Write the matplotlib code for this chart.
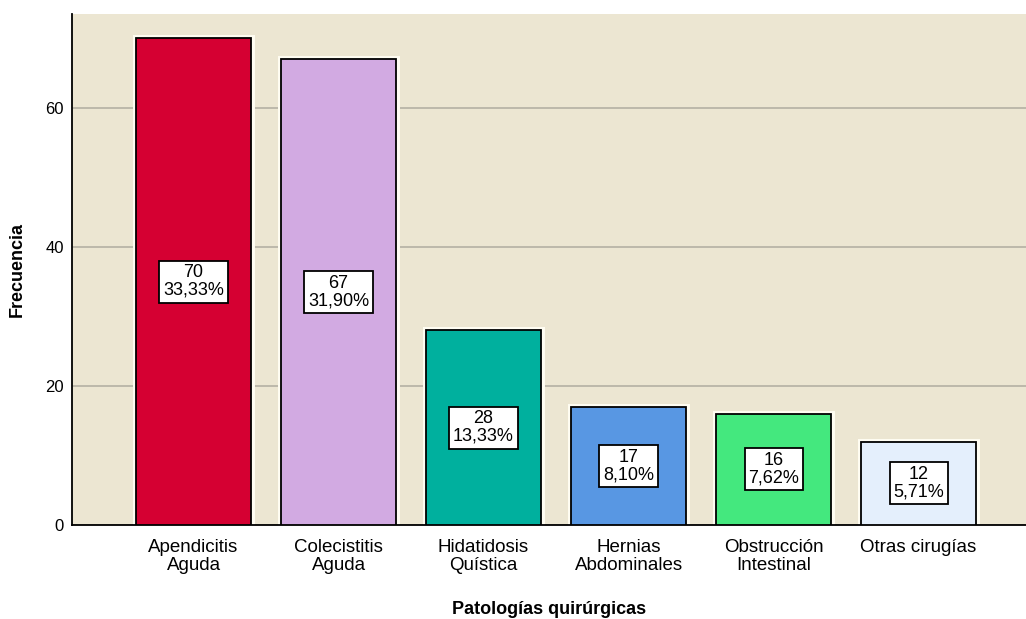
import numpy as np
import matplotlib.pyplot as plt

categorias = ["Apendicitis\nAguda", "Colecistitis\nAguda", "Hidatidosis\nQuística",
              "Hernias\nAbdominales", "Obstrucción\nIntestinal", "Otras cirugías"]
frecuencia = [70, 67, 28, 17, 16, 12]
porcentaje = ["33,33%", "31,90%", "13,33%", "8,10%", "7,62%", "5,71%"]
colores = ["#D50032", "#D2AAE2", "#00B09E", "#5897E3", "#44E87E", "#E4EFFC"]

plt.rcParams['font.family'] = ['Liberation Sans', 'DejaVu Sans']

fig = plt.figure(figsize=(10.26, 6.19), dpi=100)
ax = fig.add_axes([0.0702, 0.1519, 0.9298, 0.8255])
ax.set_facecolor("#ECE6D2")

x = np.arange(len(frecuencia))
ax.yaxis.grid(True, color="#B4B0A4", linewidth=1.2)
ax.set_axisbelow(True)
# halo blanco alrededor de las barras
ax.bar(x, frecuencia, width=0.795, color="none", edgecolor="#FFFDF2", linewidth=5, zorder=2)
ax.bar(x, frecuencia, width=0.795, color=colores, edgecolor="black", linewidth=1.3, zorder=3)

for xi, v, p in zip(x, frecuencia, porcentaje):
    ax.text(xi, v / 2, f"{v}\n{p}", ha="center", va="center", fontsize=13,
            linespacing=1.05, zorder=4,
            bbox=dict(boxstyle="square,pad=0.2", facecolor="white", edgecolor="black", linewidth=1.3))

ax.set_xlim(-0.838, 5.741)
ax.set_ylim(0, 73.5)
ax.set_yticks([0, 20, 40, 60])
ax.set_xticks(x)
ax.set_xticklabels(categorias, fontsize=13.5, linespacing=1.05)
ax.tick_params(axis="x", length=0, pad=10)
ax.tick_params(axis="y", length=0, pad=6, labelsize=12)
for s in ["top", "right"]:
    ax.spines[s].set_visible(False)
for s in ["left", "bottom"]:
    ax.spines[s].set_linewidth(1.3)

ax.set_ylabel("Frecuencia", fontsize=13, fontweight="bold", labelpad=14)
ax.set_xlabel("Patologías quirúrgicas", fontsize=13, fontweight="bold", labelpad=20)

fig.savefig("out.png", dpi=100)
